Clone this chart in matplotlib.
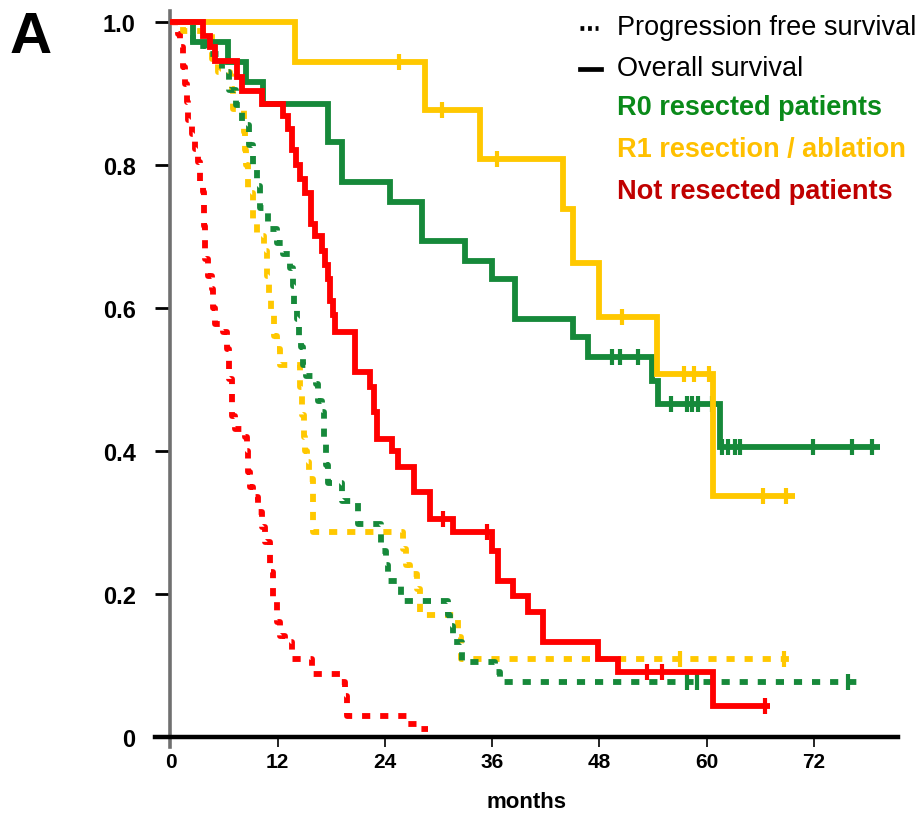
#!/usr/bin/env python3
"""Kaplan-Meier panel A: OS (solid) and PFS (dotted) by resection group."""
import numpy as np
import matplotlib
matplotlib.use("Agg")
import matplotlib.pyplot as plt
from matplotlib.lines import Line2D

plt.rcParams['font.family'] = ['Liberation Sans', 'DejaVu Sans']

GREEN = '#16893a'
YELLOW = '#ffc800'
RED = '#ff0000'

# ---- overall survival (event times in months, survival after each step) ----
r0_os_t = [2.5, 6.4, 8.5, 10.4, 17.6, 19.2, 24.6, 28.1, 33.0, 36.0, 38.5, 45.0, 46.7, 53.9, 54.5, 61.5]
r0_os_s = [0.972, 0.944, 0.916, 0.885, 0.832, 0.776, 0.748, 0.694, 0.666, 0.64, 0.585, 0.559, 0.531, 0.498, 0.466, 0.406]
r0_os_end = 79.4
r0_os_cens = [49.4, 50.3, 52.3, 56.0, 57.8, 58.3, 59.0, 60.6, 61.7, 62.4, 63.2, 63.7, 71.9, 76.2, 78.5]

r1_os_t = [13.9, 28.5, 34.6, 43.9, 45.0, 48.0, 54.4, 60.7]
r1_os_s = [0.944, 0.876, 0.808, 0.738, 0.662, 0.587, 0.508, 0.337]
r1_os_end = 69.9
r1_os_cens = [25.6, 30.4, 36.5, 50.5, 57.5, 58.6, 60.2, 66.3, 68.9]

nr_os_t = [3.6, 4.4, 5.0, 7.5, 8.0, 10.2, 12.6, 13.2, 13.6, 14.0, 14.5, 15.0, 15.7, 16.2,
           17.0, 17.3, 17.6, 17.9, 18.2, 18.4, 20.6, 22.3, 22.8, 23.1, 24.8, 25.5, 27.3,
           29.0, 31.6, 36.0, 36.6, 38.3, 40.0, 41.7, 47.8, 50.1, 60.7]
nr_os_s = [0.98, 0.965, 0.945, 0.923, 0.903, 0.885, 0.868, 0.85, 0.82, 0.80, 0.78, 0.76, 0.717, 0.70,
           0.68, 0.66, 0.64, 0.61, 0.59, 0.566, 0.51, 0.49, 0.455, 0.417, 0.40, 0.378, 0.343,
           0.305, 0.287, 0.26, 0.218, 0.197, 0.175, 0.133, 0.109, 0.091, 0.043]
nr_os_end = 67.1
nr_os_cens = [30.5, 35.4, 53.3, 55.0, 66.5]

# ---- progression free survival ----
r0_pfs_t = [2.5, 4.0, 5.8, 6.5, 7.3, 8.0, 8.8, 9.2, 9.7, 10.0, 10.9, 11.9, 12.6, 13.4, 13.7,
            13.8, 14.2, 14.4, 14.6, 14.8, 15.2, 16.3, 16.5, 17.0, 17.2, 17.4, 17.6, 19.2, 21.0,
            23.5, 24.1, 24.3, 25.8, 31.0, 31.3, 31.6, 32.6, 36.3, 36.9]
r0_pfs_s = [0.966, 0.955, 0.93, 0.905, 0.883, 0.855, 0.827, 0.80, 0.77, 0.74, 0.71, 0.69, 0.675, 0.655, 0.63,
            0.60, 0.585, 0.56, 0.545, 0.52, 0.505, 0.494, 0.47, 0.455, 0.42, 0.38, 0.355, 0.33, 0.298,
            0.26, 0.24, 0.218, 0.19, 0.17, 0.155, 0.133, 0.105, 0.091, 0.077]
r0_pfs_end = 76.8
r0_pfs_cens = [57.8, 58.9, 75.8]

r1_pfs_t = [1.4, 4.6, 5.3, 6.7, 6.9, 7.0, 8.2, 8.3, 8.5, 8.7, 9.2, 9.7, 10.5, 10.8, 11.0, 11.2,
            11.6, 11.9, 12.3, 14.5, 14.7, 14.9, 15.1, 15.3, 15.5, 15.9, 16.0, 26.0, 26.3, 26.8,
            27.6, 27.9, 32.2, 32.5]
r1_pfs_s = [0.987, 0.948, 0.93, 0.924, 0.906, 0.878, 0.846, 0.82, 0.80, 0.76, 0.72, 0.70, 0.68, 0.645, 0.62, 0.59,
            0.56, 0.543, 0.52, 0.49, 0.45, 0.42, 0.40, 0.385, 0.36, 0.32, 0.287, 0.263, 0.24, 0.228,
            0.207, 0.17, 0.14, 0.109]
r1_pfs_end = 69.3
r1_pfs_cens = [57.0, 68.7]

nr_pfs_t = [0.5, 0.84, 1.06, 1.4, 1.6, 1.85, 1.96, 2.4, 2.74, 3.08, 3.3, 3.64, 3.7, 3.86, 4.2, 4.64,
            4.75, 4.98, 5.87, 6.3, 6.6, 6.88, 6.93, 7.2, 8.33, 8.56, 8.67, 8.9, 9.2, 9.8, 10.2,
            10.6, 11.1, 11.5, 11.9, 12.2, 12.8, 13.6, 15.8, 19.0, 19.5, 19.7, 26.5, 27.9]
nr_pfs_s = [0.99, 0.983, 0.965, 0.937, 0.913, 0.888, 0.862, 0.843, 0.822, 0.804, 0.776, 0.762, 0.715, 0.668, 0.645, 0.627,
            0.60, 0.578, 0.566, 0.543, 0.50, 0.477, 0.449, 0.43, 0.42, 0.40, 0.37, 0.35, 0.335, 0.315, 0.294,
            0.273, 0.23, 0.189, 0.161, 0.141, 0.133, 0.109, 0.088, 0.077, 0.057, 0.029, 0.018, 0.011]
nr_pfs_end = 28.8

x_ticks = [0, 12, 24, 36, 48, 60, 72]
y_ticks = [0, 0.2, 0.4, 0.6, 0.8, 1.0]
y_tick_labels = ['0', '0.2', '0.4', '0.6', '0.8', '1.0']

OS_LW = 4.2
PFS_LW = 4.2


def km_xy(times, surv, end):
    x = np.concatenate([[0.0], times, [end]])
    y = np.concatenate([[1.0], surv, [surv[-1]]])
    return x, y


def surv_at(times, surv, t):
    idx = np.searchsorted(np.asarray(times), np.asarray(t), side='right')
    s = np.concatenate([[1.0], surv])
    return s[idx]


def draw_curve(ax, times, surv, end, cens, color, dotted, z):
    x, y = km_xy(times, surv, end)
    if dotted:
        ax.step(x, y, where='post', color=color, lw=PFS_LW, linestyle=(0, (1.4, 1.7)),
                solid_joinstyle='miter', zorder=z)
    else:
        ax.step(x, y, where='post', color=color, lw=OS_LW, solid_joinstyle='miter',
                solid_capstyle='butt', zorder=z)
    if cens:
        ax.plot(cens, surv_at(times, surv, cens), linestyle='none', marker='|',
                markersize=12, mew=3, color=color, zorder=z + 0.1)


fig = plt.figure(figsize=(9.21, 8.28), dpi=100)
ax = fig.add_axes([155 / 921, 1 - 748 / 828, (898 - 155) / 921, (748 - 12) / 828])
ax.set_xlim(-1.73, 81.4)
ax.set_ylim(-0.014, 1.015)

draw_curve(ax, nr_pfs_t, nr_pfs_s, nr_pfs_end, [], RED, True, 2)
draw_curve(ax, r1_pfs_t, r1_pfs_s, r1_pfs_end, r1_pfs_cens, YELLOW, True, 2.2)
draw_curve(ax, r0_pfs_t, r0_pfs_s, r0_pfs_end, r0_pfs_cens, GREEN, True, 2.4)
draw_curve(ax, r0_os_t, r0_os_s, r0_os_end, r0_os_cens, GREEN, False, 3)
draw_curve(ax, r1_os_t, r1_os_s, r1_os_end, r1_os_cens, YELLOW, False, 3.2)
draw_curve(ax, nr_os_t, nr_os_s, nr_os_end, nr_os_cens, RED, False, 3.4)

for s in ['top', 'right']:
    ax.spines[s].set_visible(False)
ax.spines['left'].set_position(('data', 0))
ax.spines['bottom'].set_position(('data', 0))
ax.spines['left'].set_color('#707070')
ax.spines['left'].set_linewidth(2.6)
ax.spines['bottom'].set_color('black')
ax.spines['bottom'].set_linewidth(3.2)
ax.spines['bottom'].set_zorder(5)

ax.set_yticks(y_ticks)
ax.set_yticklabels(y_tick_labels, fontsize=17, fontweight='bold')
ax.set_xticks(x_ticks)
ax.set_xticklabels([str(v) for v in x_ticks], fontsize=15, fontweight='bold')
ax.tick_params(axis='y', direction='out', length=11, width=2, pad=14, colors='black')
ax.tick_params(axis='x', direction='out', length=7, width=1.2, pad=4, colors='black')
ax.set_xlabel('months', fontsize=16, fontweight='bold', labelpad=14)

# panel letter
fig.text(10 / 921, 1 - 38 / 828, 'A', fontsize=42, fontweight='bold', va='center', ha='left')

# legend block
leg_x = 617 / 921
fig.add_artist(Line2D([580 / 921, 598 / 921], [1 - 29 / 828] * 2, color='black', lw=3.4,
                      linestyle=(0, (0.8, 0.8))))
fig.add_artist(Line2D([580 / 921, 601 / 921], [1 - 70 / 828] * 2, color='black', lw=3.4))
fig.text(leg_x, 1 - 28 / 828, 'Progression free survival', fontsize=19.5, va='center', ha='left')
fig.text(leg_x, 1 - 69 / 828, 'Overall survival', fontsize=19.5, va='center', ha='left')
fig.text(leg_x, 1 - 108 / 828, 'R0 resected patients', fontsize=19.5, fontweight='bold',
         color='#0a8a1a', va='center', ha='left')
fig.text(leg_x, 1 - 150 / 828, 'R1 resection / ablation', fontsize=19.5, fontweight='bold',
         color='#ffc000', va='center', ha='left')
fig.text(leg_x, 1 - 192 / 828, 'Not resected patients', fontsize=19.5, fontweight='bold',
         color='#c00000', va='center', ha='left')

fig.savefig('out.png', dpi=100)
